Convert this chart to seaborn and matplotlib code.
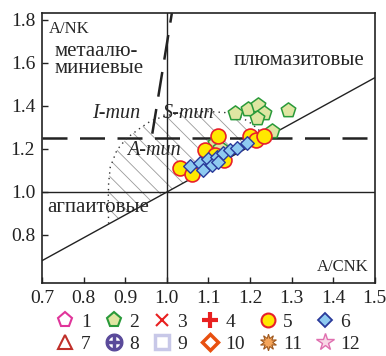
import numpy as np
import pandas as pd
import matplotlib
matplotlib.use('Agg')
import matplotlib.pyplot as plt
from matplotlib.lines import Line2D
from matplotlib.patches import Polygon
import seaborn as sns

# ---- data ----
# group 2 (green pentagons)
g2_x = [1.164, 1.195, 1.219, 1.234, 1.217, 1.291, 1.253, 1.116, 1.128]
g2_y = [1.366, 1.384, 1.403, 1.366, 1.342, 1.380, 1.282, 1.226, 1.203]
# group 5 (yellow circles)
g5_x = [1.032, 1.061, 1.092, 1.123, 1.200, 1.214, 1.234, 1.138, 1.115]
g5_y = [1.110, 1.082, 1.194, 1.259, 1.259, 1.240, 1.259, 1.147, 1.170]
# group 6 (blue diamonds)
g6_x = [1.056, 1.080, 1.087, 1.099, 1.109, 1.121, 1.135, 1.152, 1.169, 1.193, 1.123]
g6_y = [1.120, 1.134, 1.101, 1.152, 1.124, 1.161, 1.180, 1.194, 1.203, 1.227, 1.138]

# dotted boundary of the A-type field
field_x = [0.860, 0.859, 0.860, 0.864, 0.880, 0.904, 0.936, 0.962, 1.000, 1.050,
           1.100, 1.140, 1.180, 1.205, 1.225, 1.240]
field_y = [0.852, 0.950, 1.040, 1.115, 1.194, 1.250, 1.296, 1.330, 1.355, 1.370,
           1.373, 1.368, 1.345, 1.315, 1.280, 1.254]

x_ticks = [0.7, 0.8, 0.9, 1.0, 1.1, 1.2, 1.3, 1.4, 1.5]
y_ticks = [0.8, 1.0, 1.2, 1.4, 1.6, 1.8]
legend_labels = ['1', '2', '3', '4', '5', '6', '7', '8', '9', '10', '11', '12']

sns.set_style('white')
plt.rcParams['font.family'] = ['Liberation Serif', 'DejaVu Serif']
plt.rcParams['hatch.linewidth'] = 0.6
plt.rcParams['axes.unicode_minus'] = False

fig = plt.figure(figsize=(3.86, 3.56), dpi=100)
ax = fig.add_axes([0.109, 0.205, 0.862, 0.758])
ax.set_xlim(0.7, 1.5)
ax.set_ylim(0.576, 1.83)

# reference lines
ax.axhline(1.0, color='#222222', lw=1.0, zorder=1)
ax.axvline(1.0, color='#222222', lw=1.0, zorder=1)
ax.plot([0.7, 1.5], [0.68, 1.53], color='#222222', lw=1.0, zorder=1)
ax.axhline(1.25, color='#222222', lw=1.8, dashes=(10, 5), zorder=1)
ax.plot([0.965, 1.012], [1.27, 1.83], color='#222222', lw=1.8, dashes=(10, 5), zorder=1)

# hatched A-type field
poly = Polygon(list(zip(field_x, field_y)), closed=True, facecolor='none',
               edgecolor='#9a9a9a', lw=0, hatch='\\\\', zorder=0.5)
ax.add_patch(poly)
ax.plot(field_x, field_y, color='#333333', lw=1.0, ls=(0, (1, 3)), zorder=1)

# data
sns.scatterplot(x=g2_x, y=g2_y, marker='p', s=120, color='#dfe6a2', edgecolor='#2a9a3a',
                linewidth=1.1, ax=ax, zorder=3)
sns.scatterplot(x=g5_x, y=g5_y, marker='o', s=115, color='#ffe800', edgecolor='#e8202a',
                linewidth=1.2, ax=ax, zorder=4)
sns.scatterplot(x=g6_x, y=g6_y, marker='D', s=48, color='#8ecaf0', edgecolor='#2a3a9a',
                linewidth=1.0, ax=ax, zorder=5)

# texts
ax.text(0.717, 1.756, 'A/NK', fontsize=12, va='center', ha='left')
ax.text(0.731, 1.612, 'метаалю-\nминиевые', fontsize=15, va='center', ha='left',
        linespacing=0.85)
ax.text(1.476, 1.612, 'плюмазитовые', fontsize=15, va='center', ha='right')
ax.text(0.820, 1.366, 'I-тип', fontsize=14.5, style='italic', va='center', ha='left')
ax.text(0.991, 1.366, 'S-тип', fontsize=14.5, style='italic', va='center', ha='left')
ax.text(0.904, 1.194, 'A-тип', fontsize=14.5, style='italic', va='center', ha='left')
ax.text(0.712, 0.929, 'агпаитовые', fontsize=15, va='center', ha='left')
ax.text(1.484, 0.650, 'A/CNK', fontsize=12, va='center', ha='right')

ax.set_xticks(x_ticks)
ax.set_xticklabels([f'{v:.1f}' for v in x_ticks])
ax.set_yticks(y_ticks)
ax.set_yticklabels([f'{v:.1f}' for v in y_ticks])
ax.tick_params(direction='in', length=4, width=1.0, labelsize=14, colors='#222222',
               left=True, bottom=True, top=False, right=False)
ax.tick_params(axis='x', pad=5)
ax.tick_params(axis='y', pad=5)
for sp in ax.spines.values():
    sp.set_color('#222222')
    sp.set_linewidth(1.2)

# legend (12 groups, row-wise in the picture)
handles = [
    Line2D([], [], ls='', marker='p', ms=11, mfc='none', mec='#e0359a', mew=1.5),
    Line2D([], [], ls='', marker='p', ms=11, mfc='#dfe6a2', mec='#2a9a3a', mew=1.5),
    Line2D([], [], ls='', marker='x', ms=8, mec='#e82020', mew=1.5),
    Line2D([], [], ls='', marker='+', ms=11, mec='#e82020', mew=3),
    Line2D([], [], ls='', marker='o', ms=10, mfc='#ffe800', mec='#e8202a', mew=1.5),
    Line2D([], [], ls='', marker='D', ms=7.5, mfc='#8ecaf0', mec='#2a3a9a', mew=1.3),
    Line2D([], [], ls='', marker='^', ms=10, mfc='none', mec='#c0302a', mew=1.5),
    Line2D([], [], ls='', marker='$\\oplus$', ms=12, color='#5a4a9a'),
    Line2D([], [], ls='', marker='s', ms=10, mfc='none', mec='#c8c8e8', mew=2.5),
    Line2D([], [], ls='', marker='D', ms=8.5, mfc='none', mec='#e85010', mew=2.5),
    Line2D([], [], ls='', marker=(10, 1, 0), ms=12, mfc='#f5a55a', mec='#a05a20', mew=0.8),
    Line2D([], [], ls='', marker='*', ms=13, mfc='#f8d8e6', mec='#e070b0', mew=1.0),
]
order = [0, 6, 1, 7, 2, 8, 3, 9, 4, 10, 5, 11]
fig.legend([handles[i] for i in order], [legend_labels[i] for i in order],
           ncol=6, loc='center', bbox_to_anchor=(208 / 386, 1 - 333 / 356),
           frameon=False, fontsize=14, handlelength=1.0, handletextpad=0.3,
           columnspacing=0.67, labelspacing=0.25, borderpad=0)

fig.savefig('out.png', dpi=100)
